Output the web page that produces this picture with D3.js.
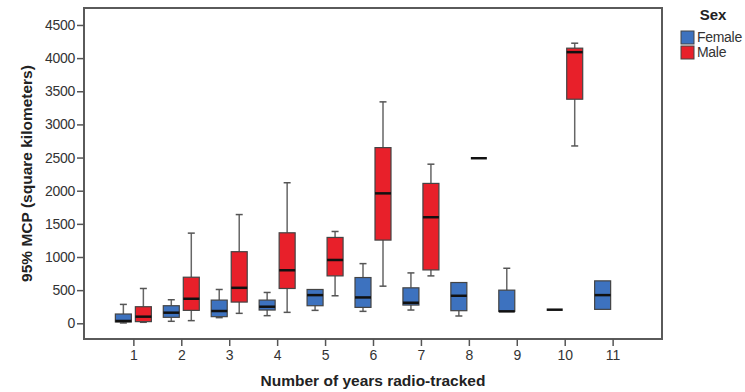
<!DOCTYPE html>
<html>
<head>
<meta charset="utf-8">
<script src="https://cdn.jsdelivr.net/npm/d3@7"></script>
<style>
  body { margin: 0; background: #fff; }
  svg { display: block; font-family: 'Liberation Sans', Arial, sans-serif; }
</style>
</head>
<body>
<div id="chart"></div>
<script>
// years radio-tracked (x categories)
const years = [1, 2, 3, 4, 5, 6, 7, 8, 9, 10, 11];
const sexes = ['Female', 'Male'];
const yTicks = [0, 500, 1000, 1500, 2000, 2500, 3000, 3500, 4000, 4500];

// box stats per year: [min, q1, median, q3, max], null = no animals
const femaleStats = [
  [5, 20, 35, 140, 285],
  [30, 90, 160, 265, 355],
  [85, 100, 185, 350, 510],
  [115, 200, 250, 350, 465],
  [195, 265, 425, 510, 510],
  [180, 240, 390, 690, 900],
  [200, 275, 310, 535, 760],
  [110, 190, 415, 615, 615],
  [180, 180, 180, 500, 830],
  [205, 205, 205, 205, 205],
  [210, 210, 425, 640, 640]
];
const maleStats = [
  [15, 25, 100, 250, 525],
  [40, 195, 370, 695, 1360],
  [150, 320, 535, 1080, 1640],
  [165, 525, 800, 1365, 2120],
  [415, 715, 955, 1295, 1385],
  [560, 1255, 1960, 2650, 3340],
  [715, 805, 1600, 2110, 2400],
  [2490, 2490, 2490, 2490, 2490],
  null,
  [2675, 3380, 4090, 4150, 4225],
  null
];

const colors = { Female: '#3d72bf', Male: '#e8202a' };

const W = 745, H = 392;
const frame = { left: 84, right: 662, top: 8, bottom: 339 };

const svg = d3.select('#chart').append('svg')
  .attr('width', W)
  .attr('height', H);

const x = d3.scalePoint()
  .domain(years)
  .range([frame.left, frame.right])
  .padding(1.03);

const xSex = d3.scaleBand()
  .domain(sexes)
  .range([-20, 20]);

const y = d3.scaleLinear()
  .domain([-237, 4756])
  .range([frame.bottom, frame.top]);

const boxW = xSex.bandwidth() * 0.8;

// frame
svg.append('rect')
  .attr('x', frame.left)
  .attr('y', frame.top)
  .attr('width', frame.right - frame.left)
  .attr('height', frame.bottom - frame.top)
  .attr('fill', 'none')
  .attr('stroke', '#5a5a5a')
  .attr('stroke-width', 2);

// y axis
const yAxis = svg.append('g')
  .attr('transform', `translate(${frame.left},0)`)
  .call(d3.axisLeft(y).tickValues(yTicks).tickFormat(d3.format('d'))
    .tickSize(7).tickSizeOuter(0).tickPadding(2));
yAxis.select('.domain').remove();
yAxis.selectAll('line').attr('stroke', '#555').attr('stroke-width', 1.5);
yAxis.selectAll('text')
  .attr('fill', '#333')
  .style('font-size', '14px')
  .style('letter-spacing', '-0.3px')
  .attr('font-family', null);

// x axis
const xAxis = svg.append('g')
  .attr('transform', `translate(0,${frame.bottom})`)
  .call(d3.axisBottom(x).tickSize(7).tickSizeOuter(0).tickPadding(4));
xAxis.select('.domain').remove();
xAxis.selectAll('line').attr('stroke', '#555').attr('stroke-width', 1.5);
xAxis.selectAll('text')
  .attr('fill', '#333')
  .style('font-size', '14px')
  .attr('font-family', null);

// boxes
const series = [
  { sex: 'Female', stats: femaleStats },
  { sex: 'Male', stats: maleStats }
];

series.forEach(s => {
  s.stats.forEach((st, i) => {
    if (!st) return;
    const [mn, q1, md, q3, mx] = st;
    const cx = x(years[i]) + xSex(s.sex) + xSex.bandwidth() / 2;
    const g = svg.append('g');

    if (mn === mx) {
      g.append('line')
        .attr('x1', cx - boxW / 2).attr('x2', cx + boxW / 2)
        .attr('y1', y(md)).attr('y2', y(md))
        .attr('stroke', '#111').attr('stroke-width', 2.5);
      return;
    }

    // whiskers
    [[q3, mx], [q1, mn]].forEach(([a, b]) => {
      if (a === b) return;
      g.append('line')
        .attr('x1', cx).attr('x2', cx)
        .attr('y1', y(a)).attr('y2', y(b))
        .attr('stroke', '#666').attr('stroke-width', 1.5);
      g.append('line')
        .attr('x1', cx - 3.5).attr('x2', cx + 3.5)
        .attr('y1', y(b)).attr('y2', y(b))
        .attr('stroke', '#555').attr('stroke-width', 1.5);
    });

    g.append('rect')
      .attr('x', cx - boxW / 2)
      .attr('y', y(q3))
      .attr('width', boxW)
      .attr('height', y(q1) - y(q3))
      .attr('fill', colors[s.sex])
      .attr('stroke', '#444')
      .attr('stroke-width', 1.2);

    g.append('line')
      .attr('x1', cx - boxW / 2).attr('x2', cx + boxW / 2)
      .attr('y1', y(md)).attr('y2', y(md))
      .attr('stroke', '#111').attr('stroke-width', 2.5);
  });
});

// axis titles
svg.append('text')
  .attr('x', (frame.left + frame.right) / 2)
  .attr('y', 386)
  .attr('text-anchor', 'middle')
  .attr('fill', '#222')
  .style('font-size', '15.5px')
  .style('font-weight', 'bold')
  .text('Number of years radio-tracked');

svg.append('text')
  .attr('transform', `translate(32,${(frame.top + frame.bottom) / 2}) rotate(-90)`)
  .attr('text-anchor', 'middle')
  .attr('fill', '#222')
  .style('font-size', '15.5px')
  .style('font-weight', 'bold')
  .text('95% MCP (square kilometers)');

// legend
const legend = svg.append('g');
legend.append('text')
  .attr('x', 713)
  .attr('y', 20)
  .attr('text-anchor', 'middle')
  .attr('fill', '#222')
  .style('font-size', '15px')
  .style('font-weight', 'bold')
  .text('Sex');

const items = legend.selectAll('.legend-item')
  .data(sexes)
  .enter().append('g')
  .attr('class', 'legend-item')
  .attr('transform', (d, i) => `translate(681, ${31 + i * 15})`);

items.append('rect')
  .attr('width', 13)
  .attr('height', 13)
  .attr('fill', d => colors[d])
  .attr('stroke', '#444')
  .attr('stroke-width', 1);

items.append('text')
  .attr('x', 16)
  .attr('y', 11)
  .attr('fill', '#333')
  .style('font-size', '14px')
  .style('letter-spacing', '-0.3px')
  .text(d => d);
</script>
</body>
</html>
